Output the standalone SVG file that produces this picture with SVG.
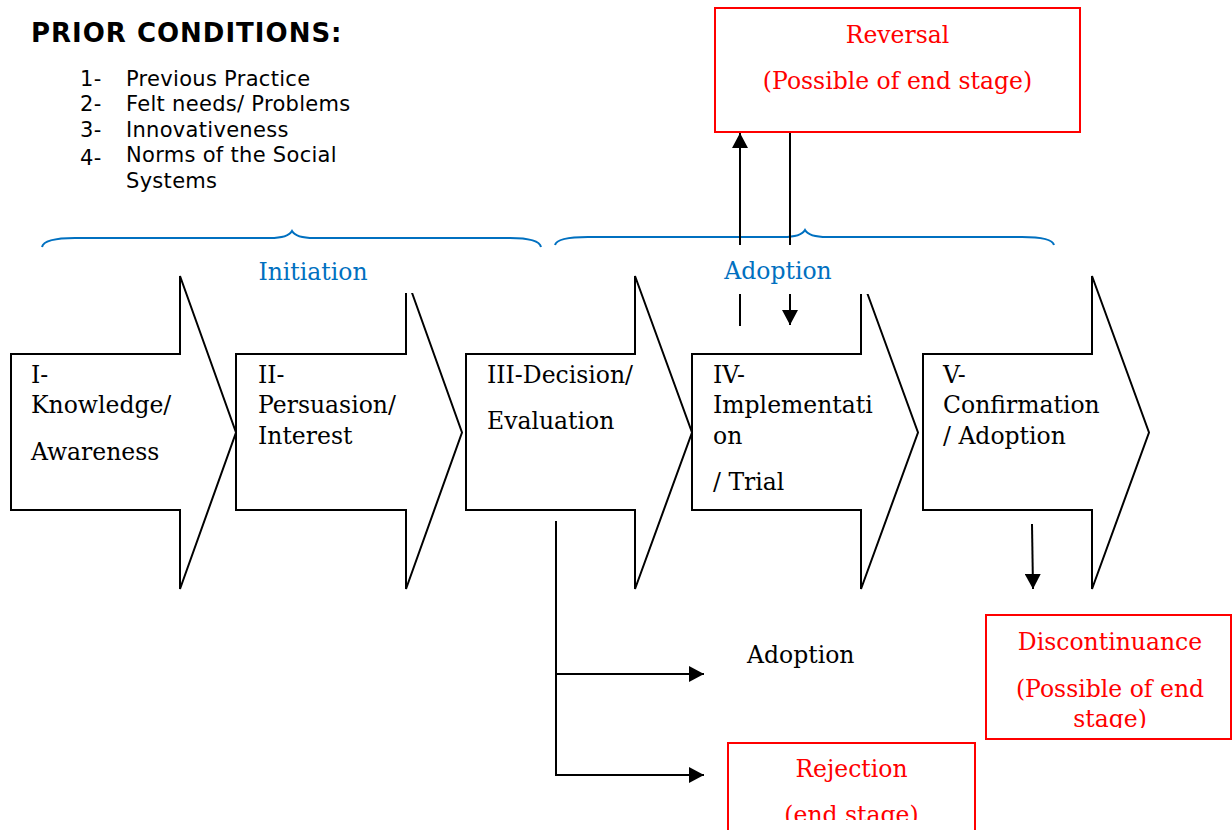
<svg xmlns="http://www.w3.org/2000/svg" width="1232" height="830" viewBox="0 0 1232 830">
  <defs>
    <style>
      .stage { fill: #ffffff; stroke: #000000; stroke-width: 2; stroke-linejoin: miter; }
      .serif { font-family: Georgia, "DejaVu Serif", serif; font-size: 23.5px; }
      .black { fill: #000000; }
      .red { fill: #ff0000; }
      .blue { fill: #0070c0; }
      .sans { font-family: Verdana, "DejaVu Sans", sans-serif; fill: #000000; }
      .endbox { fill: #ffffff; stroke: #ff0000; stroke-width: 2; }
      .brace { fill: none; stroke: #0070c0; stroke-width: 2; }
      .line { fill: none; stroke: #000000; stroke-width: 2; }
      .mask { fill: #ffffff; stroke: none; }
    </style>
    <marker id="head" viewBox="0 0 15 16" refX="15" refY="8" markerWidth="15" markerHeight="16" markerUnits="userSpaceOnUse" orient="auto">
      <path d="M0,0 L15,8 L0,16 Z" fill="#000000"/>
    </marker>
    <clipPath id="clipRejection"><rect x="700" y="740" width="300" height="80"/></clipPath>
    <clipPath id="clipDiscontinuance"><rect x="986" y="600" width="246" height="128"/></clipPath>
  </defs>

  <!-- Prior conditions list -->
  <g id="prior-conditions" class="sans">
    <text x="31" y="42" font-size="26" font-weight="bold" letter-spacing="1">PRIOR CONDITIONS:</text>
    <g font-size="21" letter-spacing="0.3">
      <text x="80" y="86">1-</text><text x="126" y="86">Previous Practice</text>
      <text x="80" y="111">2-</text><text x="126" y="111">Felt needs/ Problems</text>
      <text x="80" y="137">3-</text><text x="126" y="137">Innovativeness</text>
      <text x="80" y="165">4-</text><text x="126" y="162">Norms of the Social</text>
      <text x="126" y="188">Systems</text>
    </g>
  </g>

  <!-- Stage arrows -->
  <g id="stage-1">
    <path class="stage" d="M11,354 H180 V276 L236,432.5 L180,589 V510 H11 Z"/>
    <text class="serif black" x="31" y="383">I-</text>
    <text class="serif black" x="31" y="413">Knowledge/</text>
    <text class="serif black" x="31" y="460">Awareness</text>
  </g>
  <g id="stage-2">
    <path class="stage" d="M236,354 H406 V276 L462,432.5 L406,589 V510 H236 Z"/>
    <text class="serif black" x="258" y="383">II-</text>
    <text class="serif black" x="258" y="413">Persuasion/</text>
    <text class="serif black" x="258" y="444">Interest</text>
  </g>
  <g id="stage-3">
    <path class="stage" d="M466,354 H635 V276 L692,432.5 L635,589 V510 H466 Z"/>
    <text class="serif black" x="487" y="383">III-Decision/</text>
    <text class="serif black" x="487" y="429">Evaluation</text>
  </g>
  <g id="stage-4">
    <path class="stage" d="M692,354 H861 V276 L918,432.5 L861,589 V510 H692 Z"/>
    <text class="serif black" x="713" y="383">IV-</text>
    <text class="serif black" x="713" y="413">Implementati</text>
    <text class="serif black" x="713" y="444">on</text>
    <text class="serif black" x="713" y="490">/ Trial</text>
  </g>
  <g id="stage-5">
    <path class="stage" d="M923,354 H1092 V276 L1149,432.5 L1092,589 V510 H923 Z"/>
    <text class="serif black" x="943" y="383">V-</text>
    <text class="serif black" x="943" y="413">Confirmation</text>
    <text class="serif black" x="943" y="444">/ Adoption</text>
  </g>

  <!-- Phase braces -->
  <g id="braces">
    <path class="brace" d="M42,247 Q44,238 75,238 L270,238 Q288,238 292,231 Q296,238 314,238 L510,238 Q539,238 541,247"/>
    <path class="brace" d="M555,245 Q557,237 588,237 L783,237 Q801,237 805,230 Q809,237 827,237 L1022,237 Q1052,237 1054,245"/>
  </g>

  <!-- End-stage boxes -->
  <g id="reversal">
    <rect class="endbox" x="715" y="8" width="365" height="124"/>
    <text class="serif red" x="897.5" y="43" text-anchor="middle">Reversal</text>
    <text class="serif red" x="897.5" y="89" text-anchor="middle">(Possible of end stage)</text>
  </g>
  <g id="discontinuance">
    <rect class="endbox" x="986" y="615" width="245" height="124"/>
    <g clip-path="url(#clipDiscontinuance)">
      <text class="serif red" x="1110" y="650" text-anchor="middle">Discontinuance</text>
      <text class="serif red" x="1110" y="697" text-anchor="middle">(Possible of end</text>
      <text class="serif red" x="1110" y="727" text-anchor="middle">stage)</text>
    </g>
  </g>
  <g id="rejection">
    <rect class="endbox" x="728" y="743" width="247" height="100"/>
    <g clip-path="url(#clipRejection)">
      <text class="serif red" x="851.5" y="777" text-anchor="middle">Rejection</text>
      <text class="serif red" x="851.5" y="823" text-anchor="middle">(end stage)</text>
    </g>
  </g>
  <g id="adoption-outcome">
    <text class="serif black" x="747" y="663">Adoption</text>
  </g>

  <!-- Connectors -->
  <g id="connectors">
    <line class="line" x1="740" y1="326" x2="740" y2="133" marker-end="url(#head)"/>
    <line class="line" x1="790" y1="133" x2="790" y2="325" marker-end="url(#head)"/>
    <line class="line" x1="1032" y1="524" x2="1033" y2="589" marker-end="url(#head)"/>
    <path class="line" d="M556,521 V775"/>
    <line class="line" x1="555" y1="674" x2="704" y2="674" marker-end="url(#head)"/>
    <line class="line" x1="555" y1="775" x2="704" y2="775" marker-end="url(#head)"/>
  </g>

  <!-- Phase labels (opaque text boxes) -->
  <g id="initiation-label">
    <rect class="mask" x="240" y="249" width="180" height="44"/>
    <text class="serif blue" x="313" y="280" text-anchor="middle">Initiation</text>
  </g>
  <g id="adoption-label">
    <rect class="mask" x="700" y="245" width="172" height="49"/>
    <text class="serif blue" x="778" y="279" text-anchor="middle">Adoption</text>
  </g>
</svg>
